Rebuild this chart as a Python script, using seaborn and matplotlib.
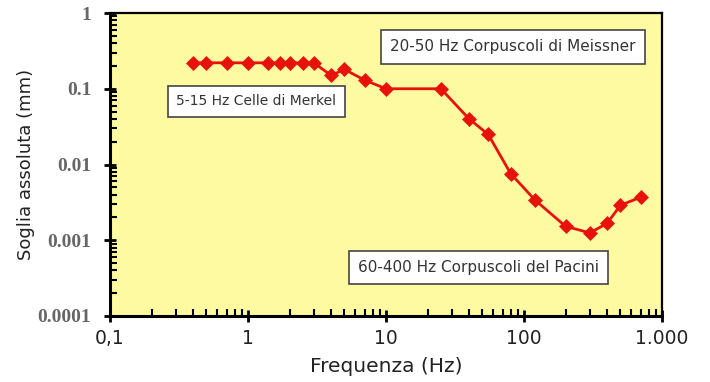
import matplotlib
matplotlib.use("Agg")
import matplotlib.pyplot as plt
import seaborn as sns
import pandas as pd
from matplotlib.ticker import FixedLocator, LogLocator, NullFormatter

# Data
freq_hz = [0.4, 0.5, 0.7, 1.0, 1.4, 1.7, 2.0, 2.5, 3.0, 4.0, 5.0, 7.0, 10, 25, 40, 55, 80, 120, 200, 300, 400, 500, 700]
threshold_mm = [0.22, 0.22, 0.22, 0.22, 0.22, 0.22, 0.22, 0.22, 0.22, 0.15, 0.18, 0.13, 0.10, 0.10,
                0.040, 0.025, 0.0076, 0.0034, 0.00153, 0.00125, 0.00167, 0.0029, 0.0037]
x_ticks = [0.1, 1, 10, 100, 1000]
x_tick_labels = ["0,1", "1", "10", "100", "1.000"]
y_ticks = [0.0001, 0.001, 0.01, 0.1, 1]
y_tick_labels = ["0.0001", "0.001", "0.01", "0.1", "1"]
annotations = ["5-15 Hz Celle di Merkel", "20-50 Hz Corpuscoli di Meissner", "60-400 Hz Corpuscoli del Pacini"]

df = pd.DataFrame({"Frequenza": freq_hz, "Soglia": threshold_mm})

sns.set_theme(style="white")
plt.rcParams["font.family"] = ["DejaVu Sans"]

fig = plt.figure(figsize=(7.1, 3.82), dpi=100)
ax = fig.add_axes([110 / 710, 1 - 316 / 382, 552 / 710, 303 / 382])
ax.set_facecolor("#FDFAA2")

sns.lineplot(data=df, x="Frequenza", y="Soglia", ax=ax, color="#E8120C", linewidth=2,
             marker="D", markersize=7, markeredgecolor="#E8120C", markeredgewidth=0.5)

ax.set_xscale("log")
ax.set_yscale("log")
ax.set_xlim(0.1, 1000)
ax.set_ylim(0.0001, 1)

ax.xaxis.set_major_locator(FixedLocator(x_ticks))
ax.set_xticklabels(x_tick_labels)
ax.xaxis.set_minor_locator(LogLocator(base=10, subs=range(2, 10)))
ax.xaxis.set_minor_formatter(NullFormatter())
ax.yaxis.set_major_locator(FixedLocator(y_ticks))
ax.set_yticklabels(y_tick_labels)
ax.yaxis.set_minor_locator(LogLocator(base=10, subs=range(2, 10)))
ax.yaxis.set_minor_formatter(NullFormatter())

ax.tick_params(axis="both", which="major", direction="inout", length=9, width=2, color="black",
               left=True, bottom=True)
ax.tick_params(axis="both", which="minor", direction="in", length=5, width=1.5, color="black",
               left=True, bottom=True)
ax.tick_params(axis="x", which="major", labelsize=13.5, pad=5, labelcolor="#222222")
ax.tick_params(axis="y", which="major", labelsize=14, pad=9)
for lab in ax.get_yticklabels():
    lab.set_fontfamily("Liberation Serif")
    lab.set_fontweight("bold")
    lab.set_color("#666666")

for side in ["left", "bottom"]:
    ax.spines[side].set_linewidth(2.2)
    ax.spines[side].set_color("black")
for side in ["top", "right"]:
    ax.spines[side].set_linewidth(1.6)
    ax.spines[side].set_color("black")

ax.set_xlabel("Frequenza (Hz)", fontsize=14.5, color="#222222", labelpad=6)
ax.set_ylabel("Soglia assoluta (mm)", fontsize=13, color="#222222", labelpad=2)

box = dict(boxstyle="square,pad=0.6", facecolor="white", edgecolor="#444444", linewidth=1.2)
ax.text(0.265, 0.708, annotations[0], transform=ax.transAxes, ha="center", va="center",
        fontsize=10, color="#333333", bbox=box)
ax.text(0.730, 0.888, annotations[1], transform=ax.transAxes, ha="center", va="center",
        fontsize=11, color="#333333", bbox=box)
ax.text(0.667, 0.160, annotations[2], transform=ax.transAxes, ha="center", va="center",
        fontsize=11, color="#333333", bbox=box)

fig.savefig("out.png", dpi=100, facecolor="white")
